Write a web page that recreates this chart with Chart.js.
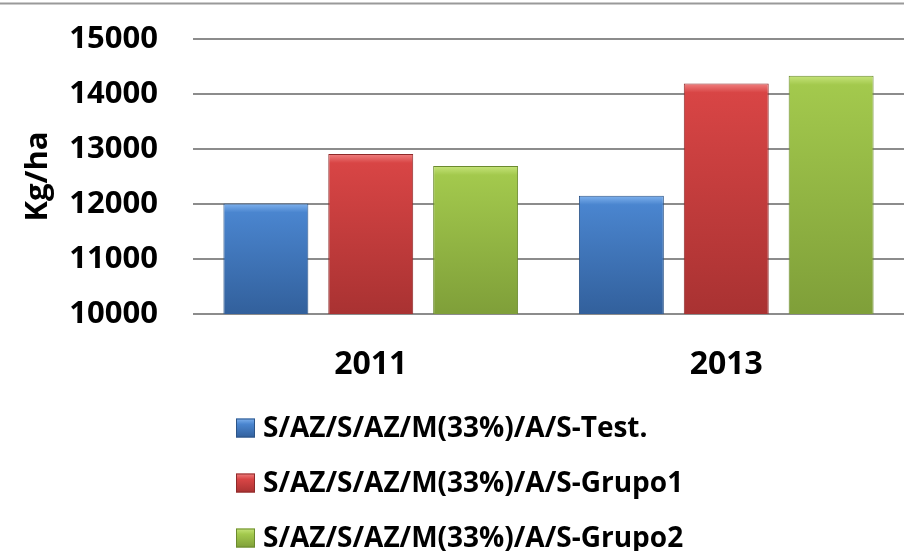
<!DOCTYPE html>
<html>
<head>
<meta charset="utf-8">
<script src="https://cdn.jsdelivr.net/npm/chart.js@4"></script>
<style>
  html, body { margin: 0; padding: 0; background: #fff; }
  #wrap { width: 904px; height: 551px; position: relative; }
</style>
</head>
<body>
<div id="wrap"><canvas id="yieldChart"></canvas></div>
<script>
// Data
const years = ["2011", "2013"];
const seriesNames = [
  "S/AZ/S/AZ/M(33%)/A/S-Test.",
  "S/AZ/S/AZ/M(33%)/A/S-Grupo1",
  "S/AZ/S/AZ/M(33%)/A/S-Grupo2"
];
const testValues = [12010, 12150];
const grupo1Values = [12910, 14190];
const grupo2Values = [12690, 14330];
const yTicks = [10000, 11000, 12000, 13000, 14000, 15000];

// colours: top highlight, upper body, lower body, border
const palettes = [
  { hi: "#7fb2ee", top: "#4a85cf", bottom: "#32609c", border: "#2c5487" },
  { hi: "#f08080", top: "#d84545", bottom: "#a93232", border: "#8e2a2a" },
  { hi: "#c6e47a", top: "#a3c94d", bottom: "#7f9f39", border: "#6b8a2e" }
];

const FONT = "'Open Sans', 'Liberation Sans', sans-serif";

function barGradient(ctx, pal) {
  const chart = ctx.chart;
  const area = chart.chartArea;
  if (!area || ctx.parsed === undefined) return pal.top;
  const y = chart.scales.y;
  const top = y.getPixelForValue(ctx.parsed.y);
  const bottom = y.getPixelForValue(y.min);
  const h = Math.max(bottom - top, 1);
  const g = chart.ctx.createLinearGradient(0, top, 0, bottom);
  const s = Math.min(9 / h, 0.3);
  g.addColorStop(0, pal.hi);
  g.addColorStop(s, pal.top);
  g.addColorStop(1, pal.bottom);
  return g;
}

const seriesValues = [testValues, grupo1Values, grupo2Values];
const datasets = seriesNames.map((name, i) => ({
  label: name,
  data: seriesValues[i],
  backgroundColor: (ctx) => barGradient(ctx, palettes[i]),
  borderColor: palettes[i].border,
  borderWidth: 1,
  categoryPercentage: 0.885,
  barPercentage: 0.81
}));

// top frame line of the original picture
const frameLine = {
  id: "frameLine",
  beforeDraw(chart) {
    const c = chart.ctx;
    c.save();
    c.fillStyle = "#fff";
    c.fillRect(0, 0, chart.width, chart.height);
    c.strokeStyle = "#9a9a9a";
    c.lineWidth = 2;
    c.beginPath();
    c.moveTo(0, 3.5);
    c.lineTo(chart.width, 3.5);
    c.stroke();
    c.restore();
  }
};

// stacked legend drawn under the x labels, left aligned
const stackedLegend = {
  id: "stackedLegend",
  afterDraw(chart) {
    const c = chart.ctx;
    const area = chart.chartArea;
    const x0 = area.left + 43;
    const y0 = area.bottom + 114;
    const rowGap = 55;
    const box = 19;
    c.save();
    c.font = "bold 28px " + FONT;
    c.textBaseline = "middle";
    c.textAlign = "left";
    chart.data.datasets.forEach((ds, i) => {
      const cy = y0 + i * rowGap;
      const pal = palettes[i];
      const g = c.createLinearGradient(0, cy - box / 2, 0, cy + box / 2);
      g.addColorStop(0, pal.hi);
      g.addColorStop(0.3, pal.top);
      g.addColorStop(1, pal.bottom);
      c.fillStyle = g;
      c.fillRect(x0, cy - box / 2, box, box);
      c.strokeStyle = pal.border;
      c.lineWidth = 1;
      c.strokeRect(x0 + 0.5, cy - box / 2 + 0.5, box - 1, box - 1);
      c.fillStyle = "#000";
      c.fillText(ds.label, x0 + 27, cy + 1);
    });
    c.restore();
  }
};

const ctx = document.getElementById("yieldChart").getContext("2d");
const yieldChart = new Chart(ctx, {
  type: "bar",
  data: { labels: years, datasets: datasets },
  plugins: [frameLine, stackedLegend],
  options: {
    responsive: true,
    maintainAspectRatio: false,
    animation: false,
    layout: { padding: { top: 39, right: 0, bottom: 177, left: 0 } },
    plugins: {
      legend: { display: false },
      tooltip: { enabled: false }
    },
    scales: {
      x: {
        grid: { display: false, drawTicks: false },
        border: { display: false },
        ticks: {
          color: "#000",
          padding: 32,
          font: { family: FONT, size: 32, weight: "bold" }
        },
        afterFit(scale) { scale.height = 60; }
      },
      y: {
        min: 10000,
        max: 15000,
        afterBuildTicks(scale) {
          scale.ticks = yTicks.map((v) => ({ value: v }));
        },
        grid: { color: "#8c8c8c", lineWidth: 2, drawTicks: false },
        border: { display: false },
        ticks: {
          color: "#000",
          padding: 35,
          font: { family: FONT, size: 31, weight: "bold" },
          callback: (v) => String(v)
        },
        title: {
          display: true,
          text: "Kg/ha",
          color: "#000",
          padding: { top: 20, bottom: 0 },
          font: { family: FONT, size: 31, weight: "bold" }
        },
        afterFit(scale) {
          scale.width = 193;
          scale.paddingTop = 0;
          scale.paddingBottom = 0;
        }
      }
    }
  }
});
</script>
</body>
</html>
